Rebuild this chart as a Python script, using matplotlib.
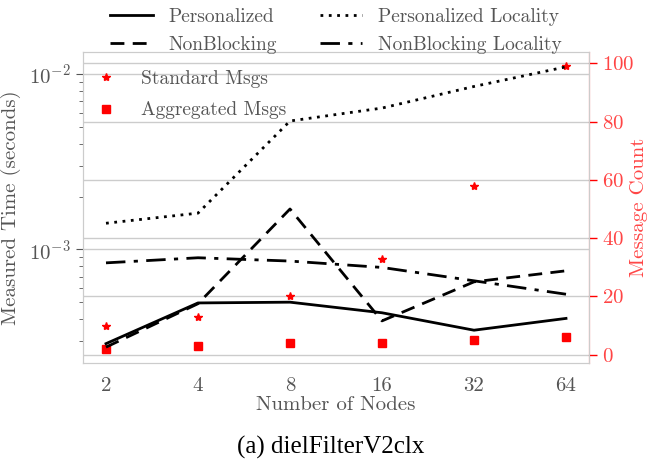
import os
import matplotlib
matplotlib.use("Agg")
import matplotlib.pyplot as plt
from matplotlib import font_manager
from matplotlib.ticker import LogLocator, NullFormatter

cm_path = os.path.join(matplotlib.get_data_path(), "fonts", "ttf", "cmr10.ttf")
font_manager.fontManager.addfont(cm_path)
cm_name = font_manager.FontProperties(fname=cm_path).get_name()

plt.rcParams["font.family"] = [cm_name, "DejaVu Serif"]
plt.rcParams["mathtext.fontset"] = "cm"
plt.rcParams["axes.formatter.use_mathtext"] = True
plt.rcParams["axes.unicode_minus"] = False

nodes = [2, 4, 8, 16, 32, 64]
personalized = [2.9e-4, 4.95e-4, 5.0e-4, 4.35e-4, 3.46e-4, 4.04e-4]
nonblocking = [2.77e-4, 4.9e-4, 1.70e-3, 3.91e-4, 6.53e-4, 7.55e-4]
personalized_loc = [1.41e-3, 1.61e-3, 5.4e-3, 6.4e-3, 8.5e-3, 1.10e-2]
nonblocking_loc = [8.38e-4, 8.96e-4, 8.58e-4, 7.89e-4, 6.62e-4, 5.55e-4]
standard_msgs = [10, 13, 20, 33, 58, 99]
aggregated_msgs = [2, 3, 4, 4, 5, 6]

GRAY = "#555555"
GRID = "#cccccc"
RED = "#ff4545"

fig = plt.figure(figsize=(6.49, 4.62), dpi=100)
ax = fig.add_axes([83 / 649, 1 - 363 / 462, 506 / 649, 311 / 462])
ax2 = ax.twinx()

l1, = ax.plot(nodes, personalized, color="black", lw=2, ls="-", label="Personalized")
l2, = ax.plot(nodes, nonblocking, color="black", lw=2, ls=(0, (5, 3)), label="NonBlocking")
l3, = ax.plot(nodes, personalized_loc, color="black", lw=2, ls=(0, (1, 2)), label="Personalized Locality")
l4, = ax.plot(nodes, nonblocking_loc, color="black", lw=2, ls=(0, (7, 3, 1.5, 3)), label="NonBlocking Locality")

ax.set_xscale("log", base=2)
ax.set_yscale("log")
ax.set_xticks(nodes)
ax.set_xticklabels([str(n) for n in nodes])
ax.set_ylim(10 ** -3.648, 10 ** -1.874)
ax.yaxis.set_major_locator(LogLocator(base=10, numticks=10))
ax.yaxis.set_minor_locator(LogLocator(base=10, subs=range(2, 10), numticks=20))
ax.yaxis.set_minor_formatter(NullFormatter())
ax.tick_params(axis="x", length=0, labelsize=15, colors=GRAY, pad=10)
ax.tick_params(axis="y", which="major", length=5, labelsize=15, colors=GRAY)
ax.tick_params(axis="y", which="minor", length=3, colors=GRAY)
ax.grid(True, axis="y", which="major", color=GRID, lw=1)
ax.set_xlabel("Number of Nodes", fontsize=15, color=GRAY, labelpad=1)
ax.set_ylabel("Measured Time (seconds)", fontsize=15, color=GRAY, labelpad=6)
for s in ax.spines.values():
    s.set_color(GRID)

s1, = ax2.plot(nodes, standard_msgs, ls="none", marker="*", ms=6, color="red", label="Standard Msgs")
s2, = ax2.plot(nodes, aggregated_msgs, ls="none", marker="s", ms=6, color="red", label="Aggregated Msgs")
ax2.set_yticks([0, 20, 40, 60, 80, 100])
ax2.tick_params(axis="y", length=6, labelsize=15, colors=RED, width=1)
ax2.tick_params(axis="y", color="red")
ax2.grid(True, axis="y", color=GRID, lw=1)
ax2.set_ylabel("Message Count", fontsize=15, color=RED, labelpad=-3)
for name, s in ax2.spines.items():
    s.set_color("red" if name == "right" else GRID)
ax2.set_zorder(0)
ax.set_zorder(1)
ax.patch.set_visible(False)

leg1 = ax.legend(handles=[l1, l2, l3, l4], loc="lower center", bbox_to_anchor=(0.5, 0.995),
                 ncol=2, frameon=False, fontsize=14, handlelength=2.2, columnspacing=2.2,
                 labelspacing=0.5, borderpad=0, borderaxespad=0)
for t in leg1.get_texts():
    t.set_color(GRAY)
ax.add_artist(leg1)
leg2 = ax.legend(handles=[s1, s2], loc="upper left", frameon=False, fontsize=14,
                 handlelength=2, bbox_to_anchor=(0.0, 0.955), labelspacing=0.7,
                 borderpad=0.2, borderaxespad=0)
for t in leg2.get_texts():
    t.set_color(GRAY)

fig.text(0.51, 1 - 447 / 462, "(a) dielFilterV2clx", ha="center", va="center",
         fontsize=18, family="Liberation Serif", color="black")

fig.savefig("out.png", dpi=100)
